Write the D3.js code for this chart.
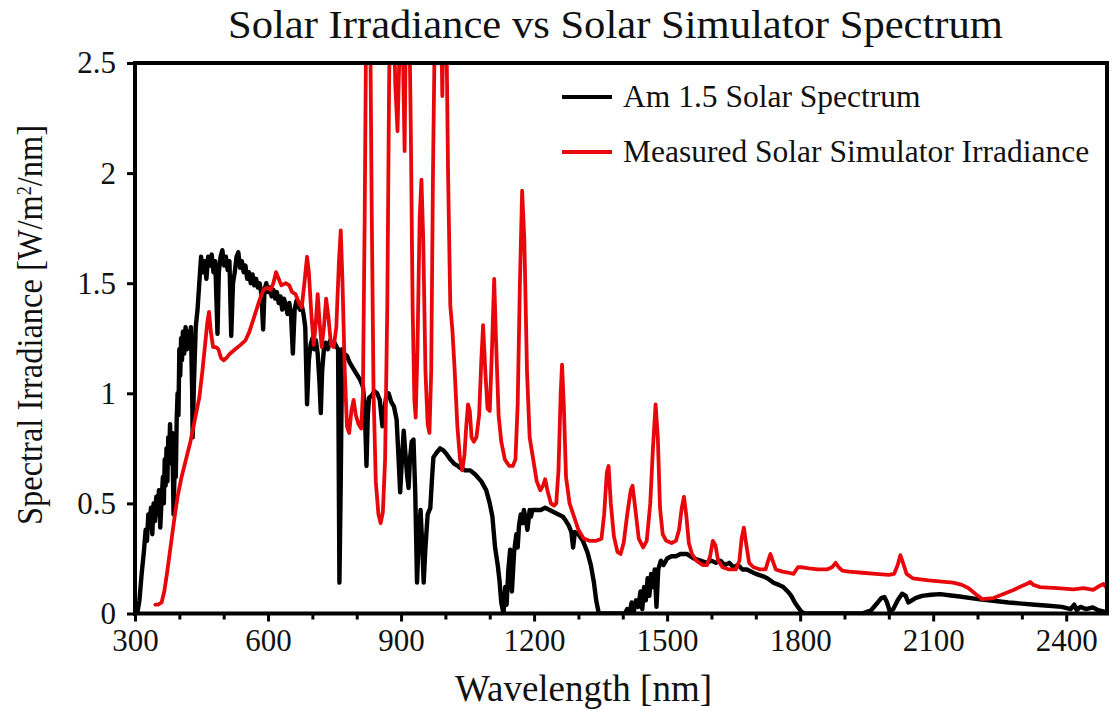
<!DOCTYPE html>
<html>
<head>
<meta charset="utf-8">
<script src="https://cdn.jsdelivr.net/npm/d3@7/dist/d3.min.js"></script>
<style>
  html, body { margin: 0; padding: 0; background: #fff; }
  svg { display: block; }
  text { font-family: "Liberation Serif", "Times New Roman", serif; fill: #111; }
</style>
</head>
<body>
<svg id="chart" width="1112" height="711"></svg>
<script>
// AM 1.5 reference spectrum: [wavelength nm, irradiance W/m²/nm]
const am15Spectrum = [
  [305,0],[310,0.06],[315,0.18],[320,0.28],[324,0.38],[327,0.33],[330,0.45],[333,0.40],[336,0.48],
  [339,0.36],[342,0.50],[345,0.42],[348,0.53],[351,0.45],[354,0.56],[357,0.39],[360,0.52],[363,0.62],
  [365,0.50],[367,0.70],[369,0.58],[371,0.75],[373,0.60],[375,0.80],[377,0.68],[379,0.86],[381,0.72],
  [384,0.82],[387,0.45],[390,0.72],[392,0.62],[394,0.88],[396,1.00],[398,0.90],[400,1.20],[402,1.08],
  [404,1.25],[406,1.15],[408,1.28],[411,1.18],[414,1.30],[417,1.20],[420,1.28],[423,1.22],[426,1.30],
  [429,1.00],[430,0.80],[433,1.05],[437,1.30],[441,1.38],[445,1.50],[449,1.62],
  [453,1.55],[457,1.60],[461,1.52],[465,1.62],[469,1.58],[473,1.63],[477,1.55],[481,1.60],[486,1.27],
  [489,1.55],[493,1.62],[497,1.65],[501,1.58],[505,1.62],[509,1.56],[513,1.60],[517,1.26],[521,1.50],
  [525,1.55],[529,1.62],[533,1.64],[537,1.57],[541,1.60],[545,1.55],[549,1.58],[553,1.52],[557,1.55],
  [561,1.50],[565,1.54],[569,1.49],[573,1.52],[577,1.48],[581,1.50],[585,1.45],[589,1.29],[592,1.47],
  [596,1.50],[600,1.46],[604,1.48],[608,1.44],[612,1.47],[616,1.43],[620,1.46],[624,1.41],[628,1.44],
  [632,1.38],[636,1.43],[640,1.40],[644,1.36],[648,1.41],[652,1.35],[656,1.18],[660,1.38],[664,1.42],
  [668,1.40],[672,1.38],[676,1.40],[680,1.36],[684,1.30],[688,0.95],[692,1.15],[696,1.22],[700,1.25],
  [704,1.20],[708,1.24],[712,1.18],[716,1.05],[719,0.91],[722,1.10],[726,1.20],[730,1.23],[735,1.20],
  [740,1.24],[745,1.22],[750,1.23],[755,1.21],[758,1.20],[761,0.14],[764,0.60],[767,1.20],[772,1.18],
  [778,1.17],[784,1.14],[790,1.12],[796,1.10],[802,1.08],[808,1.06],[814,1.03],[818,0.95],[822,0.67],
  [825,0.90],[828,0.98],[834,0.99],[840,1.01],[846,1.00],[852,0.97],[858,0.85],[862,0.92],[866,0.98],
  [872,1.00],[878,0.96],[884,0.94],[890,0.88],[894,0.72],[898,0.55],[902,0.70],[906,0.83],[910,0.72],
  [914,0.62],[917,0.57],[920,0.70],[924,0.78],[928,0.79],[932,0.55],[936,0.14],[940,0.35],[944,0.47],
  [948,0.30],[951,0.14],[955,0.30],[960,0.45],[966,0.48],[970,0.62],[973,0.71],[980,0.73],[988,0.75],
  [996,0.74],[1004,0.72],[1011,0.70],[1020,0.68],[1028,0.67],[1034,0.66],[1045,0.65],[1056,0.65],
  [1068,0.63],[1081,0.60],[1092,0.56],[1100,0.50],[1106,0.44],[1112,0.30],[1118,0.22],[1122,0.15],
  [1126,0.05],[1131,0.00],[1135,0.12],[1138,0.04],[1142,0.20],[1146,0.29],[1150,0.10],[1155,0.28],
  [1160,0.36],[1163,0.30],[1166,0.40],[1170,0.45],[1174,0.41],[1177,0.47],[1180,0.44],[1185,0.38],
  [1190,0.47],[1193,0.44],[1196,0.47],[1205,0.47],[1215,0.47],[1225,0.48],[1235,0.47],[1245,0.46],
  [1255,0.45],[1265,0.44],[1272,0.42],
  [1278,0.40],[1284,0.37],[1288,0.30],[1292,0.37],[1300,0.36],[1310,0.33],[1320,0.28],[1328,0.22],
  [1335,0.14],[1340,0.06],[1346,0.00],[1405,0.00],[1410,0.02],[1415,0.00],[1420,0.05],[1425,0.01],
  [1430,0.06],[1435,0.03],[1440,0.10],[1444,0.02],[1448,0.12],[1452,0.06],[1456,0.16],[1460,0.08],
  [1464,0.18],[1468,0.12],[1472,0.20],[1476,0.03],[1480,0.20],[1486,0.24],[1492,0.22],[1500,0.25],
  [1510,0.26],[1520,0.26],[1530,0.27],[1545,0.27],[1560,0.25],[1575,0.24],[1590,0.23],[1600,0.24],
  [1610,0.23],[1620,0.24],[1630,0.22],[1640,0.23],[1650,0.21],[1660,0.22],[1670,0.20],[1680,0.20],
  [1690,0.19],[1700,0.18],[1715,0.17],[1726,0.16],[1740,0.14],[1752,0.13],[1762,0.12],[1772,0.10],
  [1780,0.08],[1788,0.05],[1795,0.03],[1802,0.01],[1810,0.00],[1940,0.00],[1960,0.015],[1975,0.05],
  [1983,0.07],[1990,0.075],[1996,0.05],[2002,0.01],[2010,0.02],[2020,0.06],[2030,0.09],[2038,0.08],
  [2044,0.05],[2052,0.06],[2060,0.07],[2075,0.08],[2095,0.085],[2116,0.088],[2140,0.082],[2160,0.077],
  [2185,0.07],[2210,0.063],[2240,0.057],[2270,0.05],[2300,0.045],[2330,0.04],[2360,0.035],[2390,0.03],
  [2410,0.02],[2418,0.04],[2424,0.015],[2432,0.03],[2445,0.02],[2460,0.028],[2472,0.015],[2485,0.008],
  [2492,0.00]
];

// Measured simulator spectrum: [wavelength nm, irradiance W/m²/nm]
const simulatorSpectrum = [
  [346,0.04],[352,0.04],[360,0.05],[366,0.10],[372,0.18],[380,0.30],[388,0.42],[396,0.53],[405,0.62],
  [415,0.70],[425,0.78],[435,0.88],[445,0.98],[452,1.10],[458,1.22],[463,1.32],[467,1.37],[471,1.28],
  [476,1.21],[482,1.21],[488,1.20],[494,1.16],[500,1.15],[506,1.16],[514,1.18],[526,1.20],[538,1.22],
  [549,1.24],[558,1.28],[566,1.33],[574,1.38],[582,1.43],[590,1.47],[598,1.48],[606,1.47],[612,1.50],
  [618,1.55],[624,1.52],[630,1.49],[640,1.50],[648,1.49],[654,1.46],[662,1.45],[670,1.41],[676,1.39],
  [682,1.50],[688,1.62],[692,1.55],[698,1.35],[703,1.22],[707,1.30],[712,1.45],[716,1.33],[721,1.21],
  [726,1.30],[731,1.43],[736,1.35],[742,1.22],[748,1.21],[754,1.30],[760,1.60],[764,1.74],[768,1.50],
  [773,1.10],[778,0.85],[783,0.82],[788,0.92],[793,0.97],[798,0.90],[804,0.86],[810,0.84],[814,1.00],
  [818,1.80],[821,2.60],[826,3.00],[830,2.80],[834,1.80],[838,1.00],[843,0.60],[849,0.45],[854,0.41],
  [859,0.46],[864,0.70],[869,1.40],[873,2.40],[877,3.00],[882,2.90],[887,2.40],[892,2.19],[897,2.60],
  [902,2.80],[908,2.10],[912,2.90],[918,2.80],[922,2.20],[926,1.40],[930,0.97],[933,0.89],[937,1.20],
  [942,1.80],[946,1.97],[950,1.70],[955,1.10],[960,0.86],[964,0.82],[968,1.10],[972,2.00],[977,2.80],
  [983,3.00],[989,2.90],[993,2.35],[997,2.80],[1002,2.70],[1006,2.00],[1011,1.40],[1016,1.28],
  [1021,1.10],[1027,0.85],[1033,0.70],[1038,0.65],[1043,0.72],[1047,0.85],[1051,0.95],[1055,0.92],
  [1059,0.80],[1064,0.78],[1070,0.80],[1076,0.90],[1081,1.15],[1085,1.31],[1090,1.10],[1095,0.93],
  [1100,0.92],[1105,1.20],[1110,1.52],[1114,1.25],[1120,0.90],[1126,0.78],[1134,0.70],[1144,0.67],
  [1152,0.67],[1158,0.70],[1163,0.95],[1168,1.50],[1173,1.92],[1178,1.70],[1184,1.10],[1190,0.80],
  [1198,0.70],[1206,0.60],[1214,0.56],[1220,0.58],[1225,0.61],[1230,0.56],[1238,0.50],[1245,0.49],
  [1250,0.50],[1255,0.65],[1260,1.00],[1263,1.13],[1267,0.95],[1272,0.62],[1280,0.50],[1290,0.44],
  [1300,0.38],[1312,0.34],[1325,0.33],[1340,0.33],[1352,0.34],[1358,0.45],[1364,0.64],[1368,0.67],
  [1373,0.50],[1380,0.35],[1388,0.28],[1395,0.27],[1402,0.32],[1410,0.45],[1418,0.56],[1422,0.58],
  [1428,0.48],[1436,0.34],[1446,0.30],[1454,0.33],[1462,0.50],[1468,0.75],[1474,0.95],[1479,0.80],
  [1484,0.48],[1490,0.36],[1498,0.33],[1510,0.32],[1520,0.33],[1527,0.38],[1533,0.48],[1538,0.53],
  [1543,0.45],[1549,0.32],[1556,0.27],[1566,0.24],[1580,0.22],[1590,0.22],[1597,0.26],[1603,0.33],
  [1609,0.31],[1615,0.24],[1625,0.21],[1640,0.20],[1655,0.20],[1663,0.24],[1668,0.34],[1673,0.39],
  [1678,0.32],[1685,0.23],[1695,0.21],[1710,0.20],[1722,0.20],[1728,0.24],[1733,0.27],[1738,0.24],
  [1745,0.20],[1760,0.19],[1775,0.185],[1785,0.18],[1795,0.21],[1805,0.21],[1820,0.205],[1840,0.20],
  [1860,0.20],[1872,0.21],[1880,0.23],[1887,0.21],[1895,0.195],[1910,0.19],[1940,0.185],[1970,0.18],
  [2000,0.175],[2012,0.18],[2020,0.22],[2026,0.265],[2032,0.23],[2040,0.18],[2054,0.16],[2090,0.15],
  [2120,0.145],[2145,0.14],[2165,0.13],[2180,0.115],[2195,0.09],[2211,0.065],[2236,0.07],[2260,0.09],
  [2281,0.107],[2300,0.125],[2312,0.135],[2319,0.143],[2326,0.13],[2340,0.12],[2380,0.115],[2416,0.11],
  [2439,0.115],[2461,0.107],[2475,0.125],[2484,0.134],[2492,0.115]
];

const xMajorTicks = [300, 600, 900, 1200, 1500, 1800, 2100, 2400];
const xMinorTicks = d3.range(400, 2500, 100).filter(v => v % 300 !== 0);
const yTicks = [0, 0.5, 1, 1.5, 2, 2.5];

const seriesNames = ["Am 1.5 Solar Spectrum", "Measured Solar Simulator Irradiance"];
const seriesColors = ["#000000", "#e8080c"];

const svg = d3.select("#chart");
const plotLeft = 135, plotRight = 1107, plotTop = 63, plotBottom = 613.5;

const x = d3.scaleLinear().domain([300, 2492]).range([plotLeft, plotRight]);
const y = d3.scaleLinear().domain([0, 2.5]).range([plotBottom, plotTop]);

svg.append("defs").append("clipPath").attr("id", "plotClip")
  .append("rect").attr("x", plotLeft).attr("y", plotTop)
  .attr("width", plotRight - plotLeft).attr("height", plotBottom - plotTop);

const line = d3.line().x(d => x(d[0])).y(d => y(d[1]));

const plot = svg.append("g").attr("clip-path", "url(#plotClip)");
plot.append("path").datum(am15Spectrum)
  .attr("d", line).attr("fill", "none")
  .attr("stroke", seriesColors[0]).attr("stroke-width", 4.4).attr("stroke-linejoin", "round");
plot.append("path").datum(simulatorSpectrum)
  .attr("d", line).attr("fill", "none")
  .attr("stroke", seriesColors[1]).attr("stroke-width", 3.8)
  .attr("stroke-linejoin", "round").attr("stroke-linecap", "round");

// frame: top and right edges
svg.append("line").attr("x1", plotLeft).attr("x2", plotRight).attr("y1", plotTop).attr("y2", plotTop)
  .attr("stroke", "#000").attr("stroke-width", 4);
svg.append("line").attr("x1", plotRight).attr("x2", plotRight).attr("y1", plotTop - 2).attr("y2", plotBottom)
  .attr("stroke", "#000").attr("stroke-width", 4);

// x axis
const xAxis = svg.append("g").attr("transform", `translate(0,${plotBottom})`)
  .call(d3.axisBottom(x).tickValues(xMajorTicks).tickSize(8).tickSizeOuter(0).tickPadding(7).tickFormat(d3.format("d")));
svg.append("g").attr("transform", `translate(0,${plotBottom})`)
  .call(d3.axisBottom(x).tickValues(xMinorTicks).tickSize(6).tickSizeOuter(0).tickFormat(""))
  .call(g => g.select(".domain").remove())
  .selectAll("line").attr("stroke-width", 3);

// y axis
const yAxis = svg.append("g").attr("transform", `translate(${plotLeft},0)`)
  .call(d3.axisLeft(y).tickValues(yTicks).tickSize(8).tickSizeOuter(0).tickPadding(11).tickFormat(d => String(d)));

[xAxis, yAxis].forEach(g => {
  g.select(".domain").attr("stroke-width", 4);
  g.selectAll(".tick line").attr("stroke-width", 3);
  g.selectAll(".tick text").style("font-family", "'Liberation Serif', serif").style("font-size", "31px").attr("fill", "#111");
});
xAxis.select(".domain").attr("d", `M${plotLeft - 2},0H${plotRight + 2}`);
yAxis.select(".domain").attr("d", `M0,${plotBottom + 2}V${plotTop - 2}`);

// titles
svg.append("text").attr("x", 615.5).attr("y", 38).attr("text-anchor", "middle")
  .style("font-size", "40px").attr("textLength", 775).attr("lengthAdjust", "spacingAndGlyphs")
  .text("Solar Irradiance vs Solar Simulator Spectrum");
svg.append("text").attr("x", 583.5).attr("y", 701).attr("text-anchor", "middle")
  .style("font-size", "37px").attr("textLength", 257).attr("lengthAdjust", "spacingAndGlyphs")
  .text("Wavelength [nm]");
svg.append("text").attr("transform", "translate(42,325) rotate(-90)").attr("text-anchor", "middle")
  .style("font-size", "36px").attr("textLength", 400).attr("lengthAdjust", "spacingAndGlyphs")
  .html('Spectral Irradiance [W/m<tspan baseline-shift="super" font-size="20px">2</tspan>/nm]');

// legend
const legend = svg.append("g");
seriesNames.forEach((name, i) => {
  const ly = 97 + i * 55;
  legend.append("line").attr("x1", 562).attr("x2", 612).attr("y1", ly).attr("y2", ly)
    .attr("stroke", seriesColors[i]).attr("stroke-width", 4);
  legend.append("text").attr("x", 623).attr("y", ly + 10).style("font-size", "31.5px").text(name);
});
</script>
</body>
</html>
